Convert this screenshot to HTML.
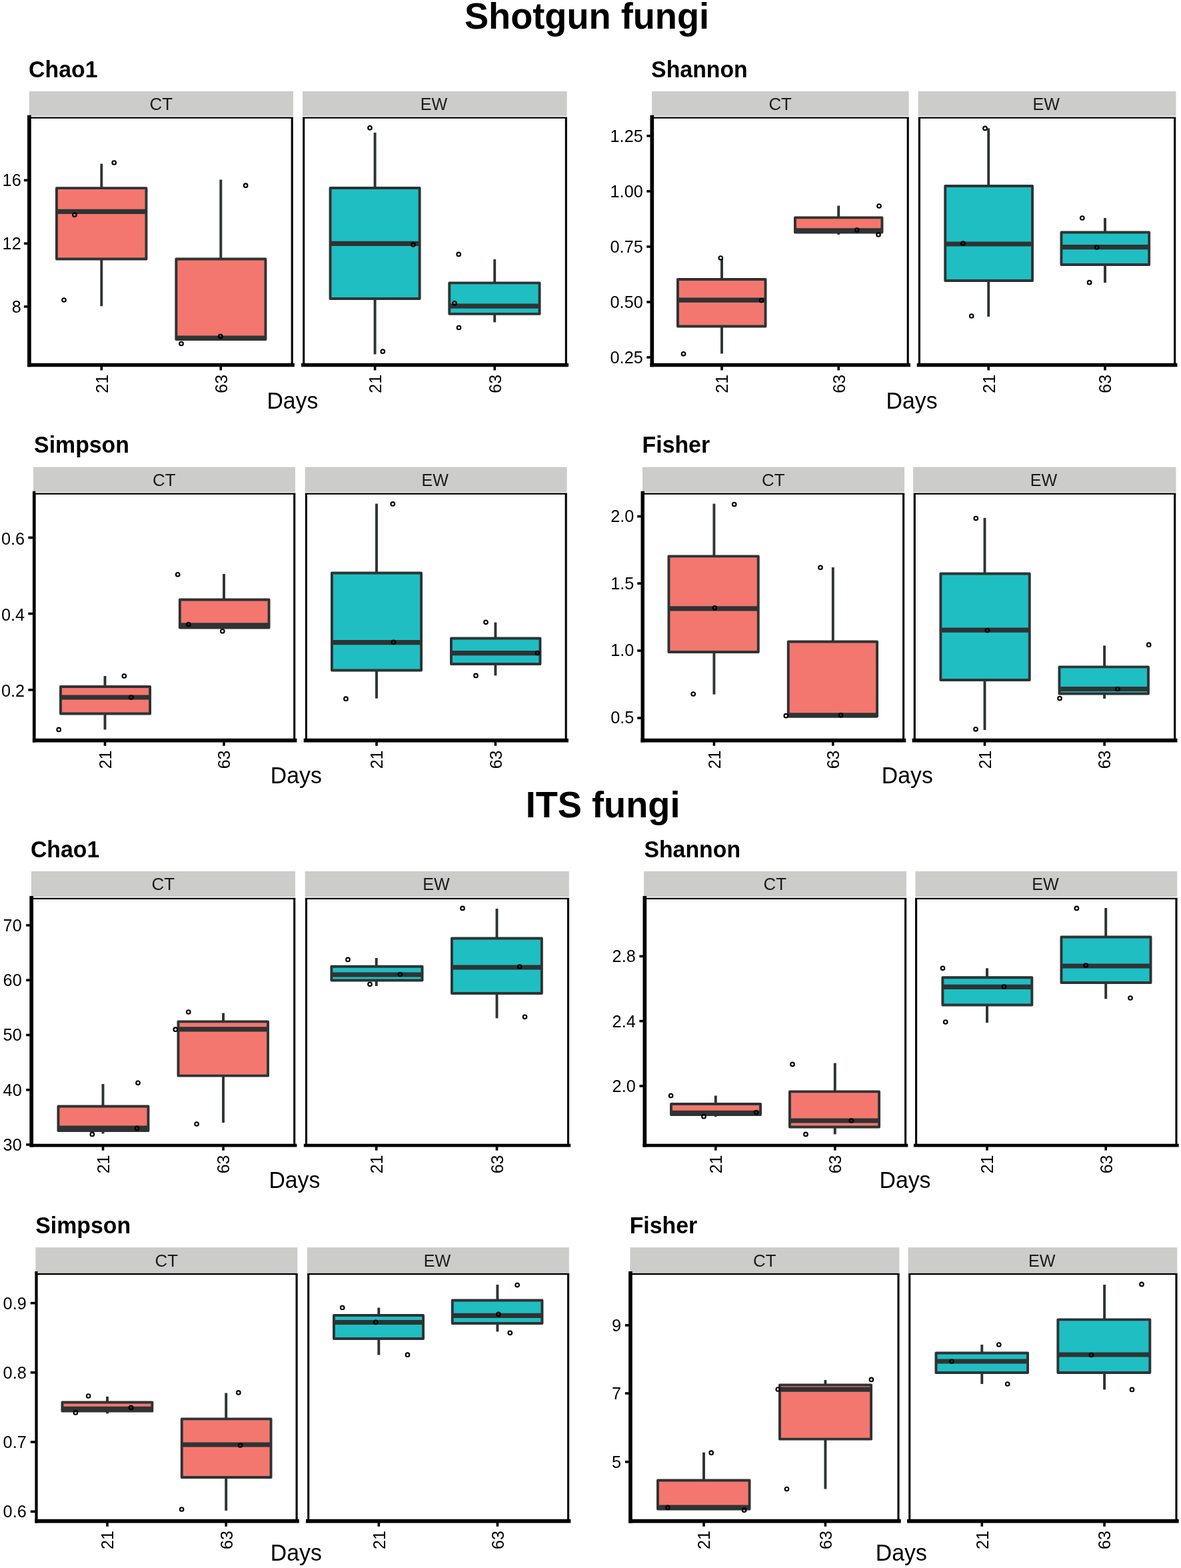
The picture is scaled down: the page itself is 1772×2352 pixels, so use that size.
<!DOCTYPE html>
<html lang="en">
<head>
<meta charset="utf-8">
<title>Shotgun fungi / ITS fungi alpha diversity</title>
<style>
html,body{margin:0;padding:0;background:#fff;}
body{width:1772px;height:2352px;overflow:hidden;}
svg{display:block;}
</style>
</head>
<body>
<svg width="1772" height="2352" viewBox="0 0 1772 2352" font-family="'Liberation Sans', sans-serif">
<rect x="0" y="0" width="1772" height="2352" fill="#ffffff"/>
<text transform="translate(696.9,43.1) scale(1,1.04)" font-size="54.2" font-weight="bold" fill="#000">Shotgun fungi</text>
<text transform="translate(788.7,1225.9) scale(1,1.04)" font-size="54.2" font-weight="bold" fill="#000">ITS fungi</text>
<g>
<text transform="translate(43.1,115.6) scale(1.016,1.05)" font-size="33.3" font-weight="bold" fill="#000">Chao1</text>
<rect x="43.8" y="136.9" width="396.2" height="37.1" fill="#cccccb"/>
<text transform="translate(241.75,165.1) scale(1.035,1.04)" font-size="25" text-anchor="middle" fill="#1a1a1a">CT</text>
<line x1="152.3" x2="152.3" y1="245.6" y2="282.15" stroke="#2e3333" stroke-width="3.9"/>
<line x1="152.3" x2="152.3" y1="388.45" y2="459.3" stroke="#2e3333" stroke-width="3.9"/>
<rect x="84.95" y="282.15" width="134.5" height="106.3" fill="#F3776F" stroke="#2e3333" stroke-width="3.9" stroke-linejoin="round"/>
<line x1="84.95" x2="219.45" y1="317.3" y2="317.3" stroke="#2e3333" stroke-width="7.2"/>
<line x1="331.3" x2="331.3" y1="269.5" y2="388.45" stroke="#2e3333" stroke-width="3.9"/>
<rect x="264.35" y="388.45" width="134.1" height="120.6" fill="#F3776F" stroke="#2e3333" stroke-width="3.9" stroke-linejoin="round"/>
<line x1="264.35" x2="398.45" y1="507" y2="507" stroke="#2e3333" stroke-width="7.2"/>
<circle cx="171.2" cy="244" r="2.8" fill="none" stroke="#000" stroke-width="2.1"/>
<circle cx="111.9" cy="322.3" r="2.8" fill="none" stroke="#000" stroke-width="2.1"/>
<circle cx="96" cy="450" r="2.8" fill="none" stroke="#000" stroke-width="2.1"/>
<circle cx="368.6" cy="278.2" r="2.8" fill="none" stroke="#000" stroke-width="2.1"/>
<circle cx="330.8" cy="504.4" r="2.8" fill="none" stroke="#000" stroke-width="2.1"/>
<circle cx="272" cy="515.5" r="2.8" fill="none" stroke="#000" stroke-width="2.1"/>
<path d="M42.35 176.7H439.75" fill="none" stroke="#000" stroke-width="2.3"/>
<path d="M43.9 176.7V547.5M438.2 176.7V547.5" fill="none" stroke="#000" stroke-width="3.1"/>
<line x1="41.05" x2="441.9" y1="547.5" y2="547.5" stroke="#000" stroke-width="5.5"/>
<line x1="43.9" x2="43.9" y1="172.8" y2="550.25" stroke="#000" stroke-width="5.7"/>
<line x1="35.9" x2="41.55" y1="270.4" y2="270.4" stroke="#000" stroke-width="3.6"/>
<text transform="translate(31.7,279.3) scale(1.01,1)" font-size="25" text-anchor="end" fill="#000">16</text>
<line x1="35.9" x2="41.55" y1="365.2" y2="365.2" stroke="#000" stroke-width="3.6"/>
<text transform="translate(31.7,374.1) scale(1.01,1)" font-size="25" text-anchor="end" fill="#000">12</text>
<line x1="35.9" x2="41.55" y1="459.9" y2="459.9" stroke="#000" stroke-width="3.6"/>
<text transform="translate(31.7,468.8) scale(1.01,1)" font-size="25" text-anchor="end" fill="#000">8</text>
<line x1="152.3" x2="152.3" y1="549.75" y2="555.45" stroke="#000" stroke-width="3.6"/>
<text transform="translate(161.6,561.9) rotate(-90)" font-size="25" text-anchor="end" fill="#000">21</text>
<line x1="331.3" x2="331.3" y1="549.75" y2="555.45" stroke="#000" stroke-width="3.6"/>
<text transform="translate(340.6,561.9) rotate(-90)" font-size="25" text-anchor="end" fill="#000">63</text>
<rect x="454" y="136.9" width="396.6" height="37.1" fill="#cccccb"/>
<text transform="translate(651,165.1) scale(1.005,1.04)" font-size="25" text-anchor="middle" fill="#1a1a1a">EW</text>
<line x1="562.6" x2="562.6" y1="199" y2="281.95" stroke="#2e3333" stroke-width="3.9"/>
<line x1="562.6" x2="562.6" y1="448.05" y2="531.4" stroke="#2e3333" stroke-width="3.9"/>
<rect x="495.55" y="281.95" width="134.1" height="166.1" fill="#1FBEC3" stroke="#2e3333" stroke-width="3.9" stroke-linejoin="round"/>
<line x1="495.55" x2="629.65" y1="365.3" y2="365.3" stroke="#2e3333" stroke-width="7.2"/>
<line x1="742.2" x2="742.2" y1="388.9" y2="424.35" stroke="#2e3333" stroke-width="3.9"/>
<line x1="742.2" x2="742.2" y1="470.85" y2="483.4" stroke="#2e3333" stroke-width="3.9"/>
<rect x="674.25" y="424.35" width="135.3" height="46.5" fill="#1FBEC3" stroke="#2e3333" stroke-width="3.9" stroke-linejoin="round"/>
<line x1="674.25" x2="809.55" y1="459.2" y2="459.2" stroke="#2e3333" stroke-width="7.2"/>
<circle cx="555" cy="191.8" r="2.8" fill="none" stroke="#000" stroke-width="2.1"/>
<circle cx="619.9" cy="367" r="2.8" fill="none" stroke="#000" stroke-width="2.1"/>
<circle cx="574.3" cy="527.2" r="2.8" fill="none" stroke="#000" stroke-width="2.1"/>
<circle cx="688.2" cy="381.4" r="2.8" fill="none" stroke="#000" stroke-width="2.1"/>
<circle cx="682" cy="454.8" r="2.8" fill="none" stroke="#000" stroke-width="2.1"/>
<circle cx="688.5" cy="491.5" r="2.8" fill="none" stroke="#000" stroke-width="2.1"/>
<path d="M454.15 176.7H850.85" fill="none" stroke="#000" stroke-width="2.3"/>
<path d="M455.7 176.7V547.5M849.3 176.7V547.5" fill="none" stroke="#000" stroke-width="3.1"/>
<line x1="452" x2="853" y1="547.5" y2="547.5" stroke="#000" stroke-width="5.5"/>
<line x1="562.6" x2="562.6" y1="549.75" y2="555.45" stroke="#000" stroke-width="3.6"/>
<text transform="translate(571.9,561.9) rotate(-90)" font-size="25" text-anchor="end" fill="#000">21</text>
<line x1="742.2" x2="742.2" y1="549.75" y2="555.45" stroke="#000" stroke-width="3.6"/>
<text transform="translate(751.5,561.9) rotate(-90)" font-size="25" text-anchor="end" fill="#000">63</text>
<text transform="translate(400.4,612.7) scale(1.015,1.05)" font-size="33.3" fill="#000">Days</text>
</g>
<g>
<text transform="translate(977.1,115.6) scale(1.016,1.05)" font-size="33.3" font-weight="bold" fill="#000">Shannon</text>
<rect x="978" y="136.9" width="385.6" height="37.1" fill="#cccccb"/>
<text transform="translate(1170.65,165.1) scale(1.035,1.04)" font-size="25" text-anchor="middle" fill="#1a1a1a">CT</text>
<line x1="1083" x2="1083" y1="388" y2="418.95" stroke="#2e3333" stroke-width="3.9"/>
<line x1="1083" x2="1083" y1="489.55" y2="530.5" stroke="#2e3333" stroke-width="3.9"/>
<rect x="1016.95" y="418.95" width="131.6" height="70.6" fill="#F3776F" stroke="#2e3333" stroke-width="3.9" stroke-linejoin="round"/>
<line x1="1016.95" x2="1148.55" y1="450.2" y2="450.2" stroke="#2e3333" stroke-width="7.2"/>
<line x1="1258.2" x2="1258.2" y1="308.5" y2="326.35" stroke="#2e3333" stroke-width="3.9"/>
<line x1="1258.2" x2="1258.2" y1="348.55" y2="352" stroke="#2e3333" stroke-width="3.9"/>
<rect x="1192.95" y="326.35" width="130.5" height="22.2" fill="#F3776F" stroke="#2e3333" stroke-width="3.9" stroke-linejoin="round"/>
<line x1="1192.95" x2="1323.45" y1="345.8" y2="345.8" stroke="#2e3333" stroke-width="7.2"/>
<circle cx="1081.3" cy="387" r="2.8" fill="none" stroke="#000" stroke-width="2.1"/>
<circle cx="1142.4" cy="450.6" r="2.8" fill="none" stroke="#000" stroke-width="2.1"/>
<circle cx="1025.5" cy="530.8" r="2.8" fill="none" stroke="#000" stroke-width="2.1"/>
<circle cx="1319" cy="309" r="2.8" fill="none" stroke="#000" stroke-width="2.1"/>
<circle cx="1285.8" cy="345" r="2.8" fill="none" stroke="#000" stroke-width="2.1"/>
<circle cx="1318" cy="352" r="2.8" fill="none" stroke="#000" stroke-width="2.1"/>
<path d="M976.45 176.7H1363.75" fill="none" stroke="#000" stroke-width="2.3"/>
<path d="M978 176.7V547.5M1362.2 176.7V547.5" fill="none" stroke="#000" stroke-width="3.1"/>
<line x1="975.45" x2="1365.9" y1="547.5" y2="547.5" stroke="#000" stroke-width="5.5"/>
<line x1="978.3" x2="978.3" y1="172.8" y2="550.25" stroke="#000" stroke-width="5.7"/>
<line x1="970.3" x2="975.95" y1="203.8" y2="203.8" stroke="#000" stroke-width="3.6"/>
<text transform="translate(964.7,212.7) scale(1.01,1)" font-size="25" text-anchor="end" fill="#000">1.25</text>
<line x1="970.3" x2="975.95" y1="286.9" y2="286.9" stroke="#000" stroke-width="3.6"/>
<text transform="translate(964.7,295.8) scale(1.01,1)" font-size="25" text-anchor="end" fill="#000">1.00</text>
<line x1="970.3" x2="975.95" y1="370" y2="370" stroke="#000" stroke-width="3.6"/>
<text transform="translate(964.7,378.9) scale(1.01,1)" font-size="25" text-anchor="end" fill="#000">0.75</text>
<line x1="970.3" x2="975.95" y1="453" y2="453" stroke="#000" stroke-width="3.6"/>
<text transform="translate(964.7,461.9) scale(1.01,1)" font-size="25" text-anchor="end" fill="#000">0.50</text>
<line x1="970.3" x2="975.95" y1="536" y2="536" stroke="#000" stroke-width="3.6"/>
<text transform="translate(964.7,544.9) scale(1.01,1)" font-size="25" text-anchor="end" fill="#000">0.25</text>
<line x1="1083" x2="1083" y1="549.75" y2="555.45" stroke="#000" stroke-width="3.6"/>
<text transform="translate(1092.3,561.9) rotate(-90)" font-size="25" text-anchor="end" fill="#000">21</text>
<line x1="1258.2" x2="1258.2" y1="549.75" y2="555.45" stroke="#000" stroke-width="3.6"/>
<text transform="translate(1267.5,561.9) rotate(-90)" font-size="25" text-anchor="end" fill="#000">63</text>
<rect x="1377.6" y="136.9" width="386.9" height="37.1" fill="#cccccb"/>
<text transform="translate(1569.75,165.1) scale(1.005,1.04)" font-size="25" text-anchor="middle" fill="#1a1a1a">EW</text>
<line x1="1483.2" x2="1483.2" y1="192.4" y2="278.95" stroke="#2e3333" stroke-width="3.9"/>
<line x1="1483.2" x2="1483.2" y1="421.05" y2="475" stroke="#2e3333" stroke-width="3.9"/>
<rect x="1418.25" y="278.95" width="130.8" height="142.1" fill="#1FBEC3" stroke="#2e3333" stroke-width="3.9" stroke-linejoin="round"/>
<line x1="1418.25" x2="1549.05" y1="366" y2="366" stroke="#2e3333" stroke-width="7.2"/>
<line x1="1658" x2="1658" y1="327" y2="348.55" stroke="#2e3333" stroke-width="3.9"/>
<line x1="1658" x2="1658" y1="397.05" y2="424" stroke="#2e3333" stroke-width="3.9"/>
<rect x="1592.45" y="348.55" width="131.7" height="48.5" fill="#1FBEC3" stroke="#2e3333" stroke-width="3.9" stroke-linejoin="round"/>
<line x1="1592.45" x2="1724.15" y1="370.7" y2="370.7" stroke="#2e3333" stroke-width="7.2"/>
<circle cx="1478" cy="192.4" r="2.8" fill="none" stroke="#000" stroke-width="2.1"/>
<circle cx="1445" cy="365.2" r="2.8" fill="none" stroke="#000" stroke-width="2.1"/>
<circle cx="1457.7" cy="474" r="2.8" fill="none" stroke="#000" stroke-width="2.1"/>
<circle cx="1623.8" cy="327" r="2.8" fill="none" stroke="#000" stroke-width="2.1"/>
<circle cx="1645.7" cy="370.9" r="2.8" fill="none" stroke="#000" stroke-width="2.1"/>
<circle cx="1634.6" cy="423.7" r="2.8" fill="none" stroke="#000" stroke-width="2.1"/>
<path d="M1377.85 176.7H1764.25" fill="none" stroke="#000" stroke-width="2.3"/>
<path d="M1379.4 176.7V547.5M1762.7 176.7V547.5" fill="none" stroke="#000" stroke-width="3.1"/>
<line x1="1375.7" x2="1766.4" y1="547.5" y2="547.5" stroke="#000" stroke-width="5.5"/>
<line x1="1483.2" x2="1483.2" y1="549.75" y2="555.45" stroke="#000" stroke-width="3.6"/>
<text transform="translate(1492.5,561.9) rotate(-90)" font-size="25" text-anchor="end" fill="#000">21</text>
<line x1="1658" x2="1658" y1="549.75" y2="555.45" stroke="#000" stroke-width="3.6"/>
<text transform="translate(1667.3,561.9) rotate(-90)" font-size="25" text-anchor="end" fill="#000">63</text>
<text transform="translate(1329.6,612.7) scale(1.015,1.05)" font-size="33.3" fill="#000">Days</text>
</g>
<g>
<text transform="translate(51.1,679) scale(1.016,1.05)" font-size="33.3" font-weight="bold" fill="#000">Simpson</text>
<rect x="50" y="700.6" width="393" height="37.6" fill="#cccccb"/>
<text transform="translate(246.35,728.6) scale(1.035,1.04)" font-size="25" text-anchor="middle" fill="#1a1a1a">CT</text>
<line x1="157.5" x2="157.5" y1="1014" y2="1029.95" stroke="#2e3333" stroke-width="3.9"/>
<line x1="157.5" x2="157.5" y1="1070.55" y2="1094.4" stroke="#2e3333" stroke-width="3.9"/>
<rect x="90.95" y="1029.95" width="134.1" height="40.6" fill="#F3776F" stroke="#2e3333" stroke-width="3.9" stroke-linejoin="round"/>
<line x1="90.95" x2="225.05" y1="1046" y2="1046" stroke="#2e3333" stroke-width="7.2"/>
<line x1="336" x2="336" y1="860.9" y2="899.45" stroke="#2e3333" stroke-width="3.9"/>
<rect x="269.85" y="899.45" width="133.7" height="42.1" fill="#F3776F" stroke="#2e3333" stroke-width="3.9" stroke-linejoin="round"/>
<line x1="269.85" x2="403.55" y1="937.8" y2="937.8" stroke="#2e3333" stroke-width="7.2"/>
<circle cx="186.3" cy="1014" r="2.8" fill="none" stroke="#000" stroke-width="2.1"/>
<circle cx="196.8" cy="1046" r="2.8" fill="none" stroke="#000" stroke-width="2.1"/>
<circle cx="88.2" cy="1094.4" r="2.8" fill="none" stroke="#000" stroke-width="2.1"/>
<circle cx="266.7" cy="861.8" r="2.8" fill="none" stroke="#000" stroke-width="2.1"/>
<circle cx="282.9" cy="936.6" r="2.8" fill="none" stroke="#000" stroke-width="2.1"/>
<circle cx="333.8" cy="946.8" r="2.8" fill="none" stroke="#000" stroke-width="2.1"/>
<path d="M50.45 740.6H443.25" fill="none" stroke="#000" stroke-width="2.3"/>
<path d="M52 740.6V1110.7M441.7 740.6V1110.7" fill="none" stroke="#000" stroke-width="3.1"/>
<line x1="48.9" x2="445.4" y1="1110.7" y2="1110.7" stroke="#000" stroke-width="5.7"/>
<line x1="51.05" x2="51.05" y1="736.7" y2="1113.55" stroke="#000" stroke-width="4.3"/>
<line x1="42.35" x2="49.4" y1="806.4" y2="806.4" stroke="#000" stroke-width="3.6"/>
<text transform="translate(37,816.5) scale(1.01,1)" font-size="25" text-anchor="end" fill="#000">0.6</text>
<line x1="42.35" x2="49.4" y1="920.5" y2="920.5" stroke="#000" stroke-width="3.6"/>
<text transform="translate(37,930.6) scale(1.01,1)" font-size="25" text-anchor="end" fill="#000">0.4</text>
<line x1="42.35" x2="49.4" y1="1034.8" y2="1034.8" stroke="#000" stroke-width="3.6"/>
<text transform="translate(37,1044.9) scale(1.01,1)" font-size="25" text-anchor="end" fill="#000">0.2</text>
<line x1="157.5" x2="157.5" y1="1113.05" y2="1118.75" stroke="#000" stroke-width="3.6"/>
<text transform="translate(166.8,1125.5) rotate(-90)" font-size="25" text-anchor="end" fill="#000">21</text>
<line x1="336" x2="336" y1="1113.05" y2="1118.75" stroke="#000" stroke-width="3.6"/>
<text transform="translate(345.3,1125.5) rotate(-90)" font-size="25" text-anchor="end" fill="#000">63</text>
<rect x="457.6" y="700.6" width="393" height="37.6" fill="#cccccb"/>
<text transform="translate(652.8,728.6) scale(1.005,1.04)" font-size="25" text-anchor="middle" fill="#1a1a1a">EW</text>
<line x1="565" x2="565" y1="755.6" y2="859.55" stroke="#2e3333" stroke-width="3.9"/>
<line x1="565" x2="565" y1="1005.45" y2="1047.6" stroke="#2e3333" stroke-width="3.9"/>
<rect x="497.95" y="859.55" width="134.1" height="145.9" fill="#1FBEC3" stroke="#2e3333" stroke-width="3.9" stroke-linejoin="round"/>
<line x1="497.95" x2="632.05" y1="963.6" y2="963.6" stroke="#2e3333" stroke-width="7.2"/>
<line x1="743.4" x2="743.4" y1="933.6" y2="957.45" stroke="#2e3333" stroke-width="3.9"/>
<line x1="743.4" x2="743.4" y1="996.05" y2="1013.4" stroke="#2e3333" stroke-width="3.9"/>
<rect x="676.95" y="957.45" width="133.5" height="38.6" fill="#1FBEC3" stroke="#2e3333" stroke-width="3.9" stroke-linejoin="round"/>
<line x1="676.95" x2="810.45" y1="979.6" y2="979.6" stroke="#2e3333" stroke-width="7.2"/>
<circle cx="589.3" cy="755.9" r="2.8" fill="none" stroke="#000" stroke-width="2.1"/>
<circle cx="590.5" cy="963.3" r="2.8" fill="none" stroke="#000" stroke-width="2.1"/>
<circle cx="519" cy="1048.2" r="2.8" fill="none" stroke="#000" stroke-width="2.1"/>
<circle cx="729" cy="933.3" r="2.8" fill="none" stroke="#000" stroke-width="2.1"/>
<circle cx="806.4" cy="979.5" r="2.8" fill="none" stroke="#000" stroke-width="2.1"/>
<circle cx="714" cy="1013.4" r="2.8" fill="none" stroke="#000" stroke-width="2.1"/>
<path d="M457.85 740.6H850.75" fill="none" stroke="#000" stroke-width="2.3"/>
<path d="M459.4 740.6V1110.7M849.2 740.6V1110.7" fill="none" stroke="#000" stroke-width="3.1"/>
<line x1="455.7" x2="852.9" y1="1110.7" y2="1110.7" stroke="#000" stroke-width="5.7"/>
<line x1="565" x2="565" y1="1113.05" y2="1118.75" stroke="#000" stroke-width="3.6"/>
<text transform="translate(574.3,1125.5) rotate(-90)" font-size="25" text-anchor="end" fill="#000">21</text>
<line x1="743.4" x2="743.4" y1="1113.05" y2="1118.75" stroke="#000" stroke-width="3.6"/>
<text transform="translate(752.7,1125.5) rotate(-90)" font-size="25" text-anchor="end" fill="#000">63</text>
<text transform="translate(405.8,1175.4) scale(1.015,1.05)" font-size="33.3" fill="#000">Days</text>
</g>
<g>
<text transform="translate(963.6,679) scale(1.016,1.05)" font-size="33.3" font-weight="bold" fill="#000">Fisher</text>
<rect x="964" y="700.6" width="393" height="37.6" fill="#cccccb"/>
<text transform="translate(1160.35,728.6) scale(1.035,1.04)" font-size="25" text-anchor="middle" fill="#1a1a1a">CT</text>
<line x1="1071.4" x2="1071.4" y1="755.6" y2="834.35" stroke="#2e3333" stroke-width="3.9"/>
<line x1="1071.4" x2="1071.4" y1="978.05" y2="1041.6" stroke="#2e3333" stroke-width="3.9"/>
<rect x="1003.45" y="834.35" width="134.3" height="143.7" fill="#F3776F" stroke="#2e3333" stroke-width="3.9" stroke-linejoin="round"/>
<line x1="1003.45" x2="1137.75" y1="912.9" y2="912.9" stroke="#2e3333" stroke-width="7.2"/>
<line x1="1249.8" x2="1249.8" y1="851" y2="962.55" stroke="#2e3333" stroke-width="3.9"/>
<rect x="1182.75" y="962.55" width="133.3" height="111.9" fill="#F3776F" stroke="#2e3333" stroke-width="3.9" stroke-linejoin="round"/>
<line x1="1182.75" x2="1316.05" y1="1072.8" y2="1072.8" stroke="#2e3333" stroke-width="7.2"/>
<circle cx="1101.7" cy="756.5" r="2.8" fill="none" stroke="#000" stroke-width="2.1"/>
<circle cx="1072.3" cy="911.8" r="2.8" fill="none" stroke="#000" stroke-width="2.1"/>
<circle cx="1040.2" cy="1041" r="2.8" fill="none" stroke="#000" stroke-width="2.1"/>
<circle cx="1231" cy="851.3" r="2.8" fill="none" stroke="#000" stroke-width="2.1"/>
<circle cx="1179.3" cy="1073.7" r="2.8" fill="none" stroke="#000" stroke-width="2.1"/>
<circle cx="1261.5" cy="1072.8" r="2.8" fill="none" stroke="#000" stroke-width="2.1"/>
<path d="M963.45 740.6H1357.15" fill="none" stroke="#000" stroke-width="2.3"/>
<path d="M965 740.6V1110.7M1355.6 740.6V1110.7" fill="none" stroke="#000" stroke-width="3.1"/>
<line x1="961.5" x2="1359.3" y1="1110.7" y2="1110.7" stroke="#000" stroke-width="5.7"/>
<line x1="964.2" x2="964.2" y1="736.7" y2="1113.55" stroke="#000" stroke-width="5.4"/>
<line x1="956.2" x2="962" y1="774.6" y2="774.6" stroke="#000" stroke-width="3.6"/>
<text transform="translate(951.3,783) scale(1.01,1)" font-size="25" text-anchor="end" fill="#000">2.0</text>
<line x1="956.2" x2="962" y1="875.1" y2="875.1" stroke="#000" stroke-width="3.6"/>
<text transform="translate(951.3,883.5) scale(1.01,1)" font-size="25" text-anchor="end" fill="#000">1.5</text>
<line x1="956.2" x2="962" y1="976" y2="976" stroke="#000" stroke-width="3.6"/>
<text transform="translate(951.3,984.4) scale(1.01,1)" font-size="25" text-anchor="end" fill="#000">1.0</text>
<line x1="956.2" x2="962" y1="1077" y2="1077" stroke="#000" stroke-width="3.6"/>
<text transform="translate(951.3,1085.4) scale(1.01,1)" font-size="25" text-anchor="end" fill="#000">0.5</text>
<line x1="1071.4" x2="1071.4" y1="1113.05" y2="1118.75" stroke="#000" stroke-width="3.6"/>
<text transform="translate(1080.7,1125.5) rotate(-90)" font-size="25" text-anchor="end" fill="#000">21</text>
<line x1="1249.8" x2="1249.8" y1="1113.05" y2="1118.75" stroke="#000" stroke-width="3.6"/>
<text transform="translate(1259.1,1125.5) rotate(-90)" font-size="25" text-anchor="end" fill="#000">63</text>
<rect x="1370" y="700.6" width="394.5" height="37.6" fill="#cccccb"/>
<text transform="translate(1565.95,728.6) scale(1.005,1.04)" font-size="25" text-anchor="middle" fill="#1a1a1a">EW</text>
<line x1="1477.5" x2="1477.5" y1="776.9" y2="860.45" stroke="#2e3333" stroke-width="3.9"/>
<line x1="1477.5" x2="1477.5" y1="1020.05" y2="1095" stroke="#2e3333" stroke-width="3.9"/>
<rect x="1411.35" y="860.45" width="133.4" height="159.6" fill="#1FBEC3" stroke="#2e3333" stroke-width="3.9" stroke-linejoin="round"/>
<line x1="1411.35" x2="1544.75" y1="945.1" y2="945.1" stroke="#2e3333" stroke-width="7.2"/>
<line x1="1657.1" x2="1657.1" y1="968.4" y2="1000.35" stroke="#2e3333" stroke-width="3.9"/>
<line x1="1657.1" x2="1657.1" y1="1040.55" y2="1047.9" stroke="#2e3333" stroke-width="3.9"/>
<rect x="1589.45" y="1000.35" width="133.5" height="40.2" fill="#1FBEC3" stroke="#2e3333" stroke-width="3.9" stroke-linejoin="round"/>
<line x1="1589.45" x2="1722.95" y1="1033.5" y2="1033.5" stroke="#2e3333" stroke-width="7.2"/>
<circle cx="1464.3" cy="777.5" r="2.8" fill="none" stroke="#000" stroke-width="2.1"/>
<circle cx="1481.4" cy="945.6" r="2.8" fill="none" stroke="#000" stroke-width="2.1"/>
<circle cx="1464" cy="1093.8" r="2.8" fill="none" stroke="#000" stroke-width="2.1"/>
<circle cx="1723.7" cy="967.2" r="2.8" fill="none" stroke="#000" stroke-width="2.1"/>
<circle cx="1676.9" cy="1033.5" r="2.8" fill="none" stroke="#000" stroke-width="2.1"/>
<circle cx="1590" cy="1047.6" r="2.8" fill="none" stroke="#000" stroke-width="2.1"/>
<path d="M1370.75 740.6H1764.25" fill="none" stroke="#000" stroke-width="2.3"/>
<path d="M1372.3 740.6V1110.7M1762.7 740.6V1110.7" fill="none" stroke="#000" stroke-width="3.1"/>
<line x1="1368.6" x2="1766.4" y1="1110.7" y2="1110.7" stroke="#000" stroke-width="5.7"/>
<line x1="1477.5" x2="1477.5" y1="1113.05" y2="1118.75" stroke="#000" stroke-width="3.6"/>
<text transform="translate(1486.8,1125.5) rotate(-90)" font-size="25" text-anchor="end" fill="#000">21</text>
<line x1="1657.1" x2="1657.1" y1="1113.05" y2="1118.75" stroke="#000" stroke-width="3.6"/>
<text transform="translate(1666.4,1125.5) rotate(-90)" font-size="25" text-anchor="end" fill="#000">63</text>
<text transform="translate(1322.8,1175.4) scale(1.015,1.05)" font-size="33.3" fill="#000">Days</text>
</g>
<g>
<text transform="translate(45.9,1285.8) scale(1.016,1.05)" font-size="33.3" font-weight="bold" fill="#000">Chao1</text>
<rect x="47" y="1306.9" width="396" height="38.2" fill="#cccccb"/>
<text transform="translate(244.85,1335.1) scale(1.035,1.04)" font-size="25" text-anchor="middle" fill="#1a1a1a">CT</text>
<line x1="154.5" x2="154.5" y1="1626" y2="1659.55" stroke="#2e3333" stroke-width="3.9"/>
<line x1="154.5" x2="154.5" y1="1696.05" y2="1700.5" stroke="#2e3333" stroke-width="3.9"/>
<rect x="87.45" y="1659.55" width="135" height="36.5" fill="#F3776F" stroke="#2e3333" stroke-width="3.9" stroke-linejoin="round"/>
<line x1="87.45" x2="222.45" y1="1692" y2="1692" stroke="#2e3333" stroke-width="7.2"/>
<line x1="335" x2="335" y1="1519.6" y2="1532.35" stroke="#2e3333" stroke-width="3.9"/>
<line x1="335" x2="335" y1="1613.65" y2="1684" stroke="#2e3333" stroke-width="3.9"/>
<rect x="267.45" y="1532.35" width="134.6" height="81.3" fill="#F3776F" stroke="#2e3333" stroke-width="3.9" stroke-linejoin="round"/>
<line x1="267.45" x2="402.05" y1="1543.9" y2="1543.9" stroke="#2e3333" stroke-width="7.2"/>
<circle cx="207" cy="1624.3" r="2.8" fill="none" stroke="#000" stroke-width="2.1"/>
<circle cx="205.5" cy="1692.4" r="2.8" fill="none" stroke="#000" stroke-width="2.1"/>
<circle cx="138.3" cy="1701.4" r="2.8" fill="none" stroke="#000" stroke-width="2.1"/>
<circle cx="282.8" cy="1518" r="2.8" fill="none" stroke="#000" stroke-width="2.1"/>
<circle cx="263.3" cy="1544.2" r="2.8" fill="none" stroke="#000" stroke-width="2.1"/>
<circle cx="295.1" cy="1686" r="2.8" fill="none" stroke="#000" stroke-width="2.1"/>
<path d="M45.95 1347.8H443.25" fill="none" stroke="#000" stroke-width="2.3"/>
<path d="M47.5 1347.8V1718.05M441.7 1347.8V1718.05" fill="none" stroke="#000" stroke-width="3.1"/>
<line x1="44.35" x2="445.4" y1="1718.05" y2="1718.05" stroke="#000" stroke-width="4.8"/>
<line x1="47.2" x2="47.2" y1="1343.9" y2="1720.45" stroke="#000" stroke-width="5.7"/>
<line x1="39.2" x2="44.85" y1="1387.9" y2="1387.9" stroke="#000" stroke-width="3.6"/>
<text transform="translate(32.7,1396.8) scale(1.01,1)" font-size="25" text-anchor="end" fill="#000">70</text>
<line x1="39.2" x2="44.85" y1="1470.2" y2="1470.2" stroke="#000" stroke-width="3.6"/>
<text transform="translate(32.7,1479.1) scale(1.01,1)" font-size="25" text-anchor="end" fill="#000">60</text>
<line x1="39.2" x2="44.85" y1="1552.5" y2="1552.5" stroke="#000" stroke-width="3.6"/>
<text transform="translate(32.7,1561.4) scale(1.01,1)" font-size="25" text-anchor="end" fill="#000">50</text>
<line x1="39.2" x2="44.85" y1="1634.8" y2="1634.8" stroke="#000" stroke-width="3.6"/>
<text transform="translate(32.7,1643.7) scale(1.01,1)" font-size="25" text-anchor="end" fill="#000">40</text>
<line x1="39.2" x2="44.85" y1="1717" y2="1717" stroke="#000" stroke-width="3.6"/>
<text transform="translate(32.7,1725.9) scale(1.01,1)" font-size="25" text-anchor="end" fill="#000">30</text>
<line x1="154.5" x2="154.5" y1="1719.95" y2="1725.65" stroke="#000" stroke-width="3.6"/>
<text transform="translate(163.8,1732.5) rotate(-90)" font-size="25" text-anchor="end" fill="#000">21</text>
<line x1="335" x2="335" y1="1719.95" y2="1725.65" stroke="#000" stroke-width="3.6"/>
<text transform="translate(344.3,1732.5) rotate(-90)" font-size="25" text-anchor="end" fill="#000">63</text>
<rect x="457.6" y="1306.9" width="396.2" height="38.2" fill="#cccccb"/>
<text transform="translate(654.4,1335.1) scale(1.005,1.04)" font-size="25" text-anchor="middle" fill="#1a1a1a">EW</text>
<line x1="564.7" x2="564.7" y1="1437" y2="1449.75" stroke="#2e3333" stroke-width="3.9"/>
<line x1="564.7" x2="564.7" y1="1470.45" y2="1479" stroke="#2e3333" stroke-width="3.9"/>
<rect x="497.35" y="1449.75" width="136.2" height="20.7" fill="#1FBEC3" stroke="#2e3333" stroke-width="3.9" stroke-linejoin="round"/>
<line x1="497.35" x2="633.55" y1="1462" y2="1462" stroke="#2e3333" stroke-width="7.2"/>
<line x1="745.5" x2="745.5" y1="1363" y2="1407.55" stroke="#2e3333" stroke-width="3.9"/>
<line x1="745.5" x2="745.5" y1="1490.05" y2="1527.4" stroke="#2e3333" stroke-width="3.9"/>
<rect x="677.95" y="1407.55" width="134.9" height="82.5" fill="#1FBEC3" stroke="#2e3333" stroke-width="3.9" stroke-linejoin="round"/>
<line x1="677.95" x2="812.85" y1="1451" y2="1451" stroke="#2e3333" stroke-width="7.2"/>
<circle cx="522" cy="1439.4" r="2.8" fill="none" stroke="#000" stroke-width="2.1"/>
<circle cx="600.4" cy="1461.6" r="2.8" fill="none" stroke="#000" stroke-width="2.1"/>
<circle cx="555" cy="1476.3" r="2.8" fill="none" stroke="#000" stroke-width="2.1"/>
<circle cx="694" cy="1362.4" r="2.8" fill="none" stroke="#000" stroke-width="2.1"/>
<circle cx="779.7" cy="1450" r="2.8" fill="none" stroke="#000" stroke-width="2.1"/>
<circle cx="787.5" cy="1525.3" r="2.8" fill="none" stroke="#000" stroke-width="2.1"/>
<path d="M457.95 1347.8H854.05" fill="none" stroke="#000" stroke-width="2.3"/>
<path d="M459.5 1347.8V1718.05M852.5 1347.8V1718.05" fill="none" stroke="#000" stroke-width="3.1"/>
<line x1="455.8" x2="856.2" y1="1718.05" y2="1718.05" stroke="#000" stroke-width="4.8"/>
<line x1="564.7" x2="564.7" y1="1719.95" y2="1725.65" stroke="#000" stroke-width="3.6"/>
<text transform="translate(574,1732.5) rotate(-90)" font-size="25" text-anchor="end" fill="#000">21</text>
<line x1="745.5" x2="745.5" y1="1719.95" y2="1725.65" stroke="#000" stroke-width="3.6"/>
<text transform="translate(754.8,1732.5) rotate(-90)" font-size="25" text-anchor="end" fill="#000">63</text>
<text transform="translate(403.4,1782.1) scale(1.015,1.05)" font-size="33.3" fill="#000">Days</text>
</g>
<g>
<text transform="translate(966.4,1285.8) scale(1.016,1.05)" font-size="33.3" font-weight="bold" fill="#000">Shannon</text>
<rect x="966" y="1306.9" width="394" height="38.2" fill="#cccccb"/>
<text transform="translate(1162.85,1335.1) scale(1.035,1.04)" font-size="25" text-anchor="middle" fill="#1a1a1a">CT</text>
<line x1="1073.8" x2="1073.8" y1="1643.5" y2="1655.95" stroke="#2e3333" stroke-width="3.9"/>
<line x1="1073.8" x2="1073.8" y1="1672.05" y2="1675" stroke="#2e3333" stroke-width="3.9"/>
<rect x="1006.95" y="1655.95" width="134.1" height="16.1" fill="#F3776F" stroke="#2e3333" stroke-width="3.9" stroke-linejoin="round"/>
<line x1="1006.95" x2="1141.05" y1="1669.3" y2="1669.3" stroke="#2e3333" stroke-width="7.2"/>
<line x1="1252.8" x2="1252.8" y1="1594.6" y2="1637.35" stroke="#2e3333" stroke-width="3.9"/>
<line x1="1252.8" x2="1252.8" y1="1690.45" y2="1701.4" stroke="#2e3333" stroke-width="3.9"/>
<rect x="1184.95" y="1637.35" width="134.1" height="53.1" fill="#F3776F" stroke="#2e3333" stroke-width="3.9" stroke-linejoin="round"/>
<line x1="1184.95" x2="1319.05" y1="1681" y2="1681" stroke="#2e3333" stroke-width="7.2"/>
<circle cx="1006.6" cy="1643.5" r="2.8" fill="none" stroke="#000" stroke-width="2.1"/>
<circle cx="1056" cy="1674.7" r="2.8" fill="none" stroke="#000" stroke-width="2.1"/>
<circle cx="1134.6" cy="1668.7" r="2.8" fill="none" stroke="#000" stroke-width="2.1"/>
<circle cx="1189" cy="1596.4" r="2.8" fill="none" stroke="#000" stroke-width="2.1"/>
<circle cx="1277.4" cy="1681" r="2.8" fill="none" stroke="#000" stroke-width="2.1"/>
<circle cx="1209" cy="1701.4" r="2.8" fill="none" stroke="#000" stroke-width="2.1"/>
<path d="M966.45 1347.8H1360.15" fill="none" stroke="#000" stroke-width="2.3"/>
<path d="M968 1347.8V1718.05M1358.6 1347.8V1718.05" fill="none" stroke="#000" stroke-width="3.1"/>
<line x1="964.5" x2="1362.3" y1="1718.05" y2="1718.05" stroke="#000" stroke-width="4.8"/>
<line x1="967.35" x2="967.35" y1="1343.9" y2="1720.45" stroke="#000" stroke-width="5.7"/>
<line x1="959.35" x2="965" y1="1434.4" y2="1434.4" stroke="#000" stroke-width="3.6"/>
<text transform="translate(953.7,1443.3) scale(1.01,1)" font-size="25" text-anchor="end" fill="#000">2.8</text>
<line x1="959.35" x2="965" y1="1531.6" y2="1531.6" stroke="#000" stroke-width="3.6"/>
<text transform="translate(953.7,1540.5) scale(1.01,1)" font-size="25" text-anchor="end" fill="#000">2.4</text>
<line x1="959.35" x2="965" y1="1629" y2="1629" stroke="#000" stroke-width="3.6"/>
<text transform="translate(953.7,1637.9) scale(1.01,1)" font-size="25" text-anchor="end" fill="#000">2.0</text>
<line x1="1073.8" x2="1073.8" y1="1719.95" y2="1725.65" stroke="#000" stroke-width="3.6"/>
<text transform="translate(1083.1,1732.5) rotate(-90)" font-size="25" text-anchor="end" fill="#000">21</text>
<line x1="1252.8" x2="1252.8" y1="1719.95" y2="1725.65" stroke="#000" stroke-width="3.6"/>
<text transform="translate(1262.1,1732.5) rotate(-90)" font-size="25" text-anchor="end" fill="#000">63</text>
<rect x="1373.4" y="1306.9" width="392.9" height="38.2" fill="#cccccb"/>
<text transform="translate(1568.55,1335.1) scale(1.005,1.04)" font-size="25" text-anchor="middle" fill="#1a1a1a">EW</text>
<line x1="1481" x2="1481" y1="1452.3" y2="1466.25" stroke="#2e3333" stroke-width="3.9"/>
<line x1="1481" x2="1481" y1="1507.45" y2="1534" stroke="#2e3333" stroke-width="3.9"/>
<rect x="1414.35" y="1466.25" width="134" height="41.2" fill="#1FBEC3" stroke="#2e3333" stroke-width="3.9" stroke-linejoin="round"/>
<line x1="1414.35" x2="1548.35" y1="1480.4" y2="1480.4" stroke="#2e3333" stroke-width="7.2"/>
<line x1="1659.2" x2="1659.2" y1="1362" y2="1405.45" stroke="#2e3333" stroke-width="3.9"/>
<line x1="1659.2" x2="1659.2" y1="1474.05" y2="1498.3" stroke="#2e3333" stroke-width="3.9"/>
<rect x="1592.45" y="1405.45" width="134.1" height="68.6" fill="#1FBEC3" stroke="#2e3333" stroke-width="3.9" stroke-linejoin="round"/>
<line x1="1592.45" x2="1726.55" y1="1449" y2="1449" stroke="#2e3333" stroke-width="7.2"/>
<circle cx="1414.5" cy="1452.3" r="2.8" fill="none" stroke="#000" stroke-width="2.1"/>
<circle cx="1506.5" cy="1480" r="2.8" fill="none" stroke="#000" stroke-width="2.1"/>
<circle cx="1418.7" cy="1533" r="2.8" fill="none" stroke="#000" stroke-width="2.1"/>
<circle cx="1615.4" cy="1362.4" r="2.8" fill="none" stroke="#000" stroke-width="2.1"/>
<circle cx="1629.2" cy="1448.1" r="2.8" fill="none" stroke="#000" stroke-width="2.1"/>
<circle cx="1696" cy="1497" r="2.8" fill="none" stroke="#000" stroke-width="2.1"/>
<path d="M1373.05 1347.8H1766.55" fill="none" stroke="#000" stroke-width="2.3"/>
<path d="M1374.6 1347.8V1718.05M1765 1347.8V1718.05" fill="none" stroke="#000" stroke-width="3.1"/>
<line x1="1370.9" x2="1768.7" y1="1718.05" y2="1718.05" stroke="#000" stroke-width="4.8"/>
<line x1="1481" x2="1481" y1="1719.95" y2="1725.65" stroke="#000" stroke-width="3.6"/>
<text transform="translate(1490.3,1732.5) rotate(-90)" font-size="25" text-anchor="end" fill="#000">21</text>
<line x1="1659.2" x2="1659.2" y1="1719.95" y2="1725.65" stroke="#000" stroke-width="3.6"/>
<text transform="translate(1668.5,1732.5) rotate(-90)" font-size="25" text-anchor="end" fill="#000">63</text>
<text transform="translate(1319.5,1782.1) scale(1.015,1.05)" font-size="33.3" fill="#000">Days</text>
</g>
<g>
<text transform="translate(53.3,1850.1) scale(1.016,1.05)" font-size="33.3" font-weight="bold" fill="#000">Simpson</text>
<rect x="53.4" y="1871.1" width="392.9" height="38.1" fill="#cccccb"/>
<text transform="translate(249.7,1899.6) scale(1.035,1.04)" font-size="25" text-anchor="middle" fill="#1a1a1a">CT</text>
<line x1="161" x2="161" y1="2094.9" y2="2103.45" stroke="#2e3333" stroke-width="3.9"/>
<line x1="161" x2="161" y1="2116.65" y2="2120.4" stroke="#2e3333" stroke-width="3.9"/>
<rect x="93.45" y="2103.45" width="134.9" height="13.2" fill="#F3776F" stroke="#2e3333" stroke-width="3.9" stroke-linejoin="round"/>
<line x1="93.45" x2="228.35" y1="2113.4" y2="2113.4" stroke="#2e3333" stroke-width="7.2"/>
<line x1="339.2" x2="339.2" y1="2089.5" y2="2128.35" stroke="#2e3333" stroke-width="3.9"/>
<line x1="339.2" x2="339.2" y1="2215.95" y2="2265.9" stroke="#2e3333" stroke-width="3.9"/>
<rect x="272.75" y="2128.35" width="133.8" height="87.6" fill="#F3776F" stroke="#2e3333" stroke-width="3.9" stroke-linejoin="round"/>
<line x1="272.75" x2="406.55" y1="2167" y2="2167" stroke="#2e3333" stroke-width="7.2"/>
<circle cx="132.6" cy="2094" r="2.8" fill="none" stroke="#000" stroke-width="2.1"/>
<circle cx="196.5" cy="2111.4" r="2.8" fill="none" stroke="#000" stroke-width="2.1"/>
<circle cx="113.4" cy="2118.9" r="2.8" fill="none" stroke="#000" stroke-width="2.1"/>
<circle cx="357.8" cy="2088.9" r="2.8" fill="none" stroke="#000" stroke-width="2.1"/>
<circle cx="360.5" cy="2168" r="2.8" fill="none" stroke="#000" stroke-width="2.1"/>
<circle cx="272.6" cy="2264" r="2.8" fill="none" stroke="#000" stroke-width="2.1"/>
<path d="M53.25 1911H446.65" fill="none" stroke="#000" stroke-width="2.3"/>
<path d="M54.8 1911V2281.7M445.1 1911V2281.7" fill="none" stroke="#000" stroke-width="3.1"/>
<line x1="52.4" x2="448.8" y1="2281.7" y2="2281.7" stroke="#000" stroke-width="5.7"/>
<line x1="54.45" x2="54.45" y1="1907.1" y2="2284.55" stroke="#000" stroke-width="4.1"/>
<line x1="45.75" x2="52.9" y1="1954.6" y2="1954.6" stroke="#000" stroke-width="3.6"/>
<text transform="translate(39.7,1963.5) scale(1.01,1)" font-size="25" text-anchor="end" fill="#000">0.9</text>
<line x1="45.75" x2="52.9" y1="2058.8" y2="2058.8" stroke="#000" stroke-width="3.6"/>
<text transform="translate(39.7,2067.7) scale(1.01,1)" font-size="25" text-anchor="end" fill="#000">0.8</text>
<line x1="45.75" x2="52.9" y1="2163" y2="2163" stroke="#000" stroke-width="3.6"/>
<text transform="translate(39.7,2171.9) scale(1.01,1)" font-size="25" text-anchor="end" fill="#000">0.7</text>
<line x1="45.75" x2="52.9" y1="2267.3" y2="2267.3" stroke="#000" stroke-width="3.6"/>
<text transform="translate(39.7,2276.2) scale(1.01,1)" font-size="25" text-anchor="end" fill="#000">0.6</text>
<line x1="161" x2="161" y1="2284.05" y2="2289.75" stroke="#000" stroke-width="3.6"/>
<text transform="translate(170.3,2296.1) rotate(-90)" font-size="25" text-anchor="end" fill="#000">21</text>
<line x1="339.2" x2="339.2" y1="2284.05" y2="2289.75" stroke="#000" stroke-width="3.6"/>
<text transform="translate(348.5,2296.1) rotate(-90)" font-size="25" text-anchor="end" fill="#000">63</text>
<rect x="460.9" y="1871.1" width="392.9" height="38.1" fill="#cccccb"/>
<text transform="translate(656.05,1899.6) scale(1.005,1.04)" font-size="25" text-anchor="middle" fill="#1a1a1a">EW</text>
<line x1="568.3" x2="568.3" y1="1961.5" y2="1972.95" stroke="#2e3333" stroke-width="3.9"/>
<line x1="568.3" x2="568.3" y1="2008.05" y2="2032.5" stroke="#2e3333" stroke-width="3.9"/>
<rect x="500.95" y="1972.95" width="134.1" height="35.1" fill="#1FBEC3" stroke="#2e3333" stroke-width="3.9" stroke-linejoin="round"/>
<line x1="500.95" x2="635.05" y1="1983.5" y2="1983.5" stroke="#2e3333" stroke-width="7.2"/>
<line x1="746.4" x2="746.4" y1="1927" y2="1950.55" stroke="#2e3333" stroke-width="3.9"/>
<line x1="746.4" x2="746.4" y1="1985.05" y2="1997.5" stroke="#2e3333" stroke-width="3.9"/>
<rect x="678.75" y="1950.55" width="134.7" height="34.5" fill="#1FBEC3" stroke="#2e3333" stroke-width="3.9" stroke-linejoin="round"/>
<line x1="678.75" x2="813.45" y1="1973.3" y2="1973.3" stroke="#2e3333" stroke-width="7.2"/>
<circle cx="513.7" cy="1961.5" r="2.8" fill="none" stroke="#000" stroke-width="2.1"/>
<circle cx="563.8" cy="1983.4" r="2.8" fill="none" stroke="#000" stroke-width="2.1"/>
<circle cx="611.5" cy="2032.2" r="2.8" fill="none" stroke="#000" stroke-width="2.1"/>
<circle cx="776.1" cy="1927.6" r="2.8" fill="none" stroke="#000" stroke-width="2.1"/>
<circle cx="747.9" cy="1971.4" r="2.8" fill="none" stroke="#000" stroke-width="2.1"/>
<circle cx="765.3" cy="1999.3" r="2.8" fill="none" stroke="#000" stroke-width="2.1"/>
<path d="M461.15 1911H854.15" fill="none" stroke="#000" stroke-width="2.3"/>
<path d="M462.7 1911V2281.7M852.6 1911V2281.7" fill="none" stroke="#000" stroke-width="3.1"/>
<line x1="459" x2="856.3" y1="2281.7" y2="2281.7" stroke="#000" stroke-width="5.7"/>
<line x1="568.3" x2="568.3" y1="2284.05" y2="2289.75" stroke="#000" stroke-width="3.6"/>
<text transform="translate(577.6,2296.1) rotate(-90)" font-size="25" text-anchor="end" fill="#000">21</text>
<line x1="746.4" x2="746.4" y1="2284.05" y2="2289.75" stroke="#000" stroke-width="3.6"/>
<text transform="translate(755.7,2296.1) rotate(-90)" font-size="25" text-anchor="end" fill="#000">63</text>
<text transform="translate(405.8,2341.4) scale(1.015,1.05)" font-size="33.3" fill="#000">Days</text>
</g>
<g>
<text transform="translate(944.7,1850.1) scale(1.016,1.05)" font-size="33.3" font-weight="bold" fill="#000">Fisher</text>
<rect x="945.4" y="1871.1" width="404" height="38.1" fill="#cccccb"/>
<text transform="translate(1147.25,1899.6) scale(1.035,1.04)" font-size="25" text-anchor="middle" fill="#1a1a1a">CT</text>
<line x1="1056" x2="1056" y1="2178.6" y2="2220.45" stroke="#2e3333" stroke-width="3.9"/>
<rect x="986.95" y="2220.45" width="137.6" height="43.1" fill="#F3776F" stroke="#2e3333" stroke-width="3.9" stroke-linejoin="round"/>
<line x1="986.95" x2="1124.55" y1="2261.2" y2="2261.2" stroke="#2e3333" stroke-width="7.2"/>
<line x1="1238.4" x2="1238.4" y1="2070" y2="2077.35" stroke="#2e3333" stroke-width="3.9"/>
<line x1="1238.4" x2="1238.4" y1="2158.65" y2="2233.5" stroke="#2e3333" stroke-width="3.9"/>
<rect x="1169.95" y="2077.35" width="137.1" height="81.3" fill="#F3776F" stroke="#2e3333" stroke-width="3.9" stroke-linejoin="round"/>
<line x1="1169.95" x2="1307.05" y1="2084.2" y2="2084.2" stroke="#2e3333" stroke-width="7.2"/>
<circle cx="1067.2" cy="2179.2" r="2.8" fill="none" stroke="#000" stroke-width="2.1"/>
<circle cx="1002" cy="2261.3" r="2.8" fill="none" stroke="#000" stroke-width="2.1"/>
<circle cx="1116.6" cy="2265.2" r="2.8" fill="none" stroke="#000" stroke-width="2.1"/>
<circle cx="1307.4" cy="2069.4" r="2.8" fill="none" stroke="#000" stroke-width="2.1"/>
<circle cx="1167.3" cy="2084" r="2.8" fill="none" stroke="#000" stroke-width="2.1"/>
<circle cx="1180.5" cy="2233.5" r="2.8" fill="none" stroke="#000" stroke-width="2.1"/>
<path d="M944.15 1911H1349.55" fill="none" stroke="#000" stroke-width="2.3"/>
<path d="M945.7 1911V2281.7M1348 1911V2281.7" fill="none" stroke="#000" stroke-width="3.1"/>
<line x1="943.05" x2="1351.7" y1="2281.7" y2="2281.7" stroke="#000" stroke-width="5.7"/>
<line x1="945.9" x2="945.9" y1="1907.1" y2="2284.55" stroke="#000" stroke-width="5.7"/>
<line x1="937.9" x2="943.55" y1="1987.9" y2="1987.9" stroke="#000" stroke-width="3.6"/>
<text transform="translate(932.1,1996.8) scale(1.01,1)" font-size="25" text-anchor="end" fill="#000">9</text>
<line x1="937.9" x2="943.55" y1="2090" y2="2090" stroke="#000" stroke-width="3.6"/>
<text transform="translate(932.1,2098.9) scale(1.01,1)" font-size="25" text-anchor="end" fill="#000">7</text>
<line x1="937.9" x2="943.55" y1="2192.8" y2="2192.8" stroke="#000" stroke-width="3.6"/>
<text transform="translate(932.1,2201.7) scale(1.01,1)" font-size="25" text-anchor="end" fill="#000">5</text>
<line x1="1056" x2="1056" y1="2284.05" y2="2289.75" stroke="#000" stroke-width="3.6"/>
<text transform="translate(1065.3,2296.1) rotate(-90)" font-size="25" text-anchor="end" fill="#000">21</text>
<line x1="1238.4" x2="1238.4" y1="2284.05" y2="2289.75" stroke="#000" stroke-width="3.6"/>
<text transform="translate(1247.7,2296.1) rotate(-90)" font-size="25" text-anchor="end" fill="#000">63</text>
<rect x="1362.6" y="1871.1" width="403.7" height="38.1" fill="#cccccb"/>
<text transform="translate(1563.15,1899.6) scale(1.005,1.04)" font-size="25" text-anchor="middle" fill="#1a1a1a">EW</text>
<line x1="1473.3" x2="1473.3" y1="2017" y2="2029.45" stroke="#2e3333" stroke-width="3.9"/>
<line x1="1473.3" x2="1473.3" y1="2059.05" y2="2076" stroke="#2e3333" stroke-width="3.9"/>
<rect x="1404.45" y="2029.45" width="137.6" height="29.6" fill="#1FBEC3" stroke="#2e3333" stroke-width="3.9" stroke-linejoin="round"/>
<line x1="1404.45" x2="1542.05" y1="2042" y2="2042" stroke="#2e3333" stroke-width="7.2"/>
<line x1="1657.1" x2="1657.1" y1="1927" y2="1979.35" stroke="#2e3333" stroke-width="3.9"/>
<line x1="1657.1" x2="1657.1" y1="2059.05" y2="2084.4" stroke="#2e3333" stroke-width="3.9"/>
<rect x="1587.35" y="1979.35" width="138" height="79.7" fill="#1FBEC3" stroke="#2e3333" stroke-width="3.9" stroke-linejoin="round"/>
<line x1="1587.35" x2="1725.35" y1="2032" y2="2032" stroke="#2e3333" stroke-width="7.2"/>
<circle cx="1498.8" cy="2017" r="2.8" fill="none" stroke="#000" stroke-width="2.1"/>
<circle cx="1428" cy="2042" r="2.8" fill="none" stroke="#000" stroke-width="2.1"/>
<circle cx="1511.7" cy="2076" r="2.8" fill="none" stroke="#000" stroke-width="2.1"/>
<circle cx="1713" cy="1926.4" r="2.8" fill="none" stroke="#000" stroke-width="2.1"/>
<circle cx="1637.3" cy="2032.5" r="2.8" fill="none" stroke="#000" stroke-width="2.1"/>
<circle cx="1698.5" cy="2084.4" r="2.8" fill="none" stroke="#000" stroke-width="2.1"/>
<path d="M1363.15 1911H1766.55" fill="none" stroke="#000" stroke-width="2.3"/>
<path d="M1364.7 1911V2281.7M1765 1911V2281.7" fill="none" stroke="#000" stroke-width="3.1"/>
<line x1="1361" x2="1768.7" y1="2281.7" y2="2281.7" stroke="#000" stroke-width="5.7"/>
<line x1="1473.3" x2="1473.3" y1="2284.05" y2="2289.75" stroke="#000" stroke-width="3.6"/>
<text transform="translate(1482.6,2296.1) rotate(-90)" font-size="25" text-anchor="end" fill="#000">21</text>
<line x1="1657.1" x2="1657.1" y1="2284.05" y2="2289.75" stroke="#000" stroke-width="3.6"/>
<text transform="translate(1666.4,2296.1) rotate(-90)" font-size="25" text-anchor="end" fill="#000">63</text>
<text transform="translate(1313.8,2341.4) scale(1.015,1.05)" font-size="33.3" fill="#000">Days</text>
</g>
</svg>
</body>
</html>
